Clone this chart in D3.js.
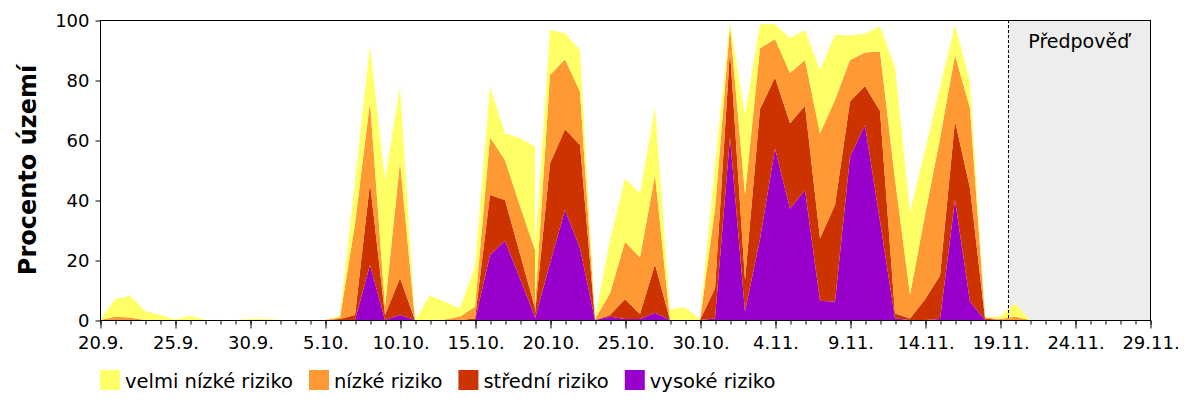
<!DOCTYPE html>
<html><head><meta charset="utf-8">
<script src="https://cdn.jsdelivr.net/npm/d3@7/dist/d3.min.js"></script>
<style>body{margin:0;background:#fff}svg{display:block}</style>
</head><body><svg id="chart" width="1200" height="400"></svg>
<script>
// ---- data ----
const year = 2020;
const dates = [
  "20.9.","21.9.","22.9.","23.9.","24.9.","25.9.","26.9.","27.9.","28.9.","29.9.",
  "30.9.","1.10.","2.10.","3.10.","4.10.","5.10.","6.10.","7.10.","8.10.","9.10.",
  "10.10.","11.10.","12.10.","13.10.","14.10.","15.10.","16.10.","17.10.","18.10.","19.10.",
  "19.10.","20.10.","21.10.","22.10.","23.10.","24.10.","25.10.","26.10.","27.10.","28.10.",
  "29.10.","30.10.","31.10.","1.11.","2.11.","3.11.","4.11.","5.11.","6.11.","7.11.",
  "8.11.","9.11.","10.11.","11.11.","12.11.","13.11.","14.11.","15.11.","16.11.","17.11.",
  "18.11.","19.11.","20.11.","21.11."
];
const velmiNizke = [
  0,5.8,7.3,3.0,1.7,0.2,1.4,0.1,0,0,
  0.3,0.3,0,0,0,0,0.7,14,18.9,42.3,
  25,0,8.2,5.9,2.6,13.4,16.9,8.9,22.6,34.5,
  18.9,15,8.7,13.9,0.2,17.8,21.1,21.3,22.6,3.6,
  4.2,0.3,15,1.4,26.3,8,4.9,11.7,10,21.1,
  21.7,8.1,6.2,8.3,37.5,27.6,21.5,17,10,8.8,
  0.3,0.8,4.5,0
];
const nizke = [
  0,1.1,0.8,0,0,0,0,0,0,0,
  0,0,0,0,0,0,0.5,30.3,27.2,2.7,
  38.9,0,0,0.2,1.2,3.9,19.2,13.3,16,19.3,
  2.2,29.5,23.3,17.8,0.3,7.2,19.2,18.9,29.7,0,
  0,0,26.5,8,28.7,20.3,12.9,16.7,15.3,35,
  35,13.9,11.2,19.8,44.8,7.9,28.2,45.8,22,26.7,
  0.3,0.3,1.1,0
];
const stredni = [
  0,0,0,0,0,0,0,0,0,0,
  0,0,0,0,0,0,0.3,1.7,27.3,1.7,
  12.2,0,0,0,0,0.5,20,13.6,8.2,3,
  1.7,33.3,26.9,34.4,0,0.6,6.6,1.7,16.2,0,
  0,0,10,29,10.5,43.3,23.6,28.5,28.1,20.8,
  32.2,18.4,13,36.7,1.7,0.5,6.8,14.5,26.3,37.8,
  0.5,0,0,0
];
const vysoke = [
  0,0,0,0,0,0,0,0,0,0,
  0,0,0,0,0,0,0,0,18.3,0,
  1.7,0,0,0,0,0,21.7,26.4,13.8,1,
  0.5,18.9,36.7,23.9,0,1.1,0.3,0.3,2.4,0,
  0,0,0.5,61,2.8,27,57.2,37.1,43.3,6.4,
  6.1,54.4,65,33,0.5,0,0,0.3,40,6.1,
  0,0,0,0
];
const seriesKeys = ["velmiNizke","nizke","stredni","vysoke"];
const seriesNames = ["velmi nízké riziko","nízké riziko","střední riziko","vysoké riziko"];
const seriesColors = ["#FFFF66","#FF9933","#CC3300","#9900CC"];
const xDomain = ["20.9.","29.11."];
const xTickLabels = ["20.9.","25.9.","30.9.","5.10.","10.10.","15.10.","20.10.","25.10.","30.10.","4.11.","9.11.","14.11.","19.11.","24.11.","29.11."];
const yTicks = [0,20,40,60,80,100];
const forecastStart = "19.11. 12";
const forecastLabel = "Předpověď";
const yTitle = "Procento území";

// ---- chart ----
const parse = s => d3.timeParse("%d.%m.%Y")(s + year);
const parseH = s => d3.timeParse("%d.%m. %H %Y")(s + " " + year);
const rows = dates.map((d, i) => ({
  date: parse(d),
  velmiNizke: velmiNizke[i], nizke: nizke[i], stredni: stredni[i], vysoke: vysoke[i]
}));

const svg = d3.select("#chart");
const L = 100, R = 1150, T = 20, B = 320;
const x = d3.scaleTime().domain(xDomain.map(parse)).range([L, R]);
const y = d3.scaleLinear().domain([0, 100]).range([B, T]);
const font = "'DejaVu Sans', sans-serif";

// forecast background
const xf = x(parseH(forecastStart));
svg.append("rect").attr("x", xf).attr("y", T).attr("width", R - xf).attr("height", B - T).attr("fill", "#EDEDED");

// stacked areas (bottom: vysoké)
const stack = d3.stack().keys(seriesKeys.slice().reverse());
const layers = stack(rows);
const area = d3.area().x(d => x(d.data.date)).y0(d => y(d[0])).y1(d => y(d[1]));
svg.append("g").selectAll("path").data(layers).join("path")
  .attr("d", area)
  .attr("fill", d => seriesColors[seriesKeys.indexOf(d.key)]);

// forecast line + label
svg.append("line").attr("x1", Math.round(xf) + 0.5).attr("x2", Math.round(xf) + 0.5)
  .attr("y1", T).attr("y2", B).attr("stroke", "#000").attr("stroke-width", 1).attr("stroke-dasharray", "3,2");
svg.append("text").attr("x", (xf + R) / 2).attr("y", 48).attr("text-anchor", "middle")
  .attr("font-family", font).attr("font-size", 19).attr("fill", "#000").text(forecastLabel);

// frame
svg.append("rect").attr("x", L + 0.5).attr("y", T + 0.5).attr("width", R - L).attr("height", B - T)
  .attr("fill", "none").attr("stroke", "#000").attr("stroke-width", 1);

// x axis: minor daily ticks
const xAxisMinor = d3.axisBottom(x).ticks(d3.timeDay.every(1)).tickSize(4).tickFormat("");
const gxm = svg.append("g").attr("transform", `translate(0.5,${B + 0.5})`).call(xAxisMinor);
gxm.select(".domain").remove();
const majorDates = xTickLabels.map(parse);
const xAxis = d3.axisBottom(x).tickValues(majorDates).tickSize(8).tickPadding(8)
  .tickFormat((d, i) => xTickLabels[i]);
const gx = svg.append("g").attr("transform", `translate(0.5,${B + 0.5})`).call(xAxis);
gx.select(".domain").remove();
gx.selectAll("text").attr("font-family", font).attr("font-size", 18).attr("fill", "#000");

// y axis
const yAxis = d3.axisLeft(y).tickValues(yTicks).tickSize(5).tickPadding(6);
const gy = svg.append("g").attr("transform", `translate(${L + 0.5},0.5)`).call(yAxis);
gy.select(".domain").remove();
gy.selectAll("text").attr("font-family", font).attr("font-size", 18).attr("fill", "#000");

// y title
svg.append("text").attr("transform", `translate(36,${(T + B) / 2}) rotate(-90)`)
  .attr("text-anchor", "middle").attr("font-family", font).attr("font-weight", "bold")
  .attr("font-size", 24).attr("fill", "#000").text(yTitle);

// legend
const lg = svg.append("g");
let lx = 100;
seriesNames.forEach((name, i) => {
  lg.append("rect").attr("x", lx).attr("y", 370).attr("width", 20).attr("height", 20).attr("fill", seriesColors[i]);
  const t = lg.append("text").attr("x", lx + 25).attr("y", 388).attr("font-family", font)
    .attr("font-size", 19.5).attr("fill", "#000").text(name);
  lx += 25 + t.node().getComputedTextLength() + 16;
});
</script>
</body></html>
